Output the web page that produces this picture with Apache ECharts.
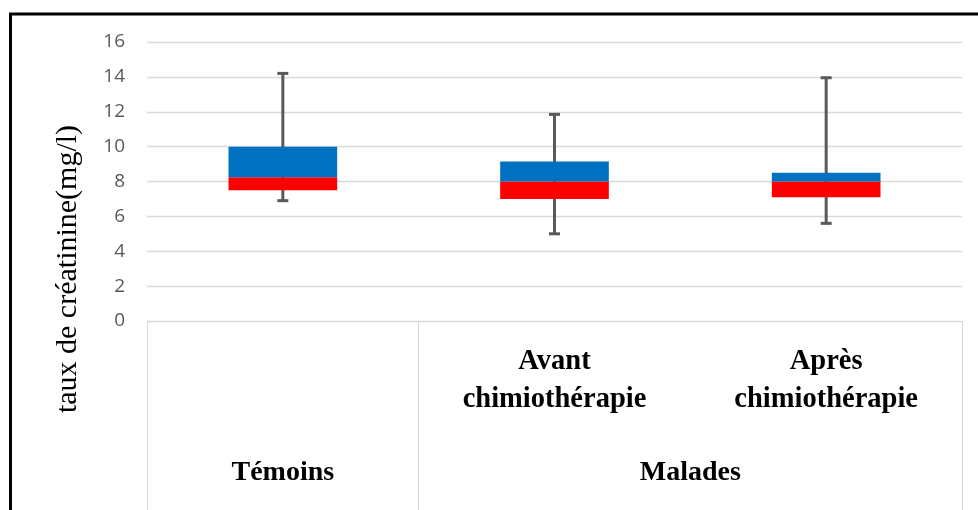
<!DOCTYPE html>
<html>
<head>
<meta charset="utf-8">
<script src="https://cdn.jsdelivr.net/npm/echarts@6/dist/echarts.min.js"></script>
<style>
  html, body { margin: 0; padding: 0; background: #fff; }
  #chart { width: 978px; height: 510px; }
</style>
</head>
<body>
<div id="chart"></div>
<script>
// ---- data ----
var categories = ['Témoins', 'Avant\nchimiothérapie', 'Après\nchimiothérapie'];
var groupLabels = ['', 'Témoins', '', '', 'Malades', '', ''];
var minValues    = [6.9, 5.0, 5.6];
var q1Values     = [7.5, 7.0, 7.1];
var medianValues = [8.25, 8.0, 8.0];
var q3Values     = [10.0, 9.15, 8.5];
var maxValues    = [14.2, 11.85, 13.95];
var yTicks = { min: 0, max: 16, interval: 2 };
var yTitle = 'taux de créatinine(mg/l)';

// ---- derived for stacking ----
var lowerBox = q1Values.map(function (q, i) { return +(medianValues[i] - q).toFixed(3); });
var upperBox = q3Values.map(function (q, i) { return +(q - medianValues[i]).toFixed(3); });
var whiskerData = categories.map(function (c, i) { return [i, minValues[i], maxValues[i]]; });

var chart = echarts.init(document.getElementById('chart'), null, { renderer: 'canvas' });
var serif = '"Liberation Serif", "Times New Roman", serif';
var grey = '#d9d9d9';

chart.setOption({
  animation: false,
  backgroundColor: '#ffffff',
  grid: { left: 147, right: 16, top: 42, bottom: 189, containLabel: false },
  xAxis: [
    {
      type: 'category',
      data: categories,
      position: 'bottom',
      axisLine: { show: true, lineStyle: { color: grey, width: 1 } },
      axisTick: { show: false },
      splitLine: { show: false },
      axisLabel: {
        interval: 0,
        margin: 22,
        fontFamily: serif,
        fontWeight: 'bold',
        fontSize: 28.5,
        lineHeight: 38,
        color: '#000',
        formatter: function (v, i) { return i === 0 ? '' : v; }
      }
    },
    {
      type: 'category',
      data: groupLabels,
      boundaryGap: false,
      position: 'bottom',
      offset: 189,
      axisLine: { show: false },
      axisTick: {
        show: true,
        inside: true,
        length: 189,
        interval: function (i) { return i === 0 || i === 2 || i === 6; },
        lineStyle: { color: grey, width: 1 }
      },
      splitLine: { show: false },
      axisLabel: {
        interval: 0,
        inside: true,
        margin: 22,
        fontFamily: serif,
        fontWeight: 'bold',
        fontSize: 28,
        lineHeight: 30,
        color: '#000'
      }
    }
  ],
  yAxis: {
    type: 'value',
    min: yTicks.min,
    max: yTicks.max,
    interval: yTicks.interval,
    axisLine: { show: false },
    axisTick: { show: false },
    splitLine: { show: true, lineStyle: { color: grey, width: 1.3 } },
    axisLabel: {
      margin: 22,
      fontFamily: '"Open Sans", "Liberation Sans", sans-serif',
      fontSize: 19,
      color: '#595959'
    }
  },
  graphic: [
    {
      type: 'rect',
      shape: { x: 10.5, y: 14, width: 1200, height: 700 },
      style: { fill: 'none', stroke: '#000', lineWidth: 3 },
      silent: true,
      z: 100
    },
    {
      type: 'text',
      x: 68,
      y: 269,
      rotation: Math.PI / 2,
      style: {
        text: yTitle,
        fontFamily: serif,
        fontSize: 30,
        fill: '#000',
        textAlign: 'center',
        textVerticalAlign: 'middle'
      },
      silent: true
    }
  ],
  series: [
    {
      type: 'custom',
      name: 'whisker',
      z: 1,
      renderItem: function (params, api) {
        var x = api.value(0);
        var lo = api.coord([x, api.value(1)]);
        var hi = api.coord([x, api.value(2)]);
        var half = 5.5;
        var st = { stroke: '#595959', lineWidth: 3 };
        return {
          type: 'group',
          children: [
            { type: 'line', shape: { x1: lo[0], y1: lo[1], x2: hi[0], y2: hi[1] }, style: st },
            { type: 'line', shape: { x1: lo[0] - half, y1: lo[1], x2: lo[0] + half, y2: lo[1] }, style: st },
            { type: 'line', shape: { x1: hi[0] - half, y1: hi[1], x2: hi[0] + half, y2: hi[1] }, style: st }
          ]
        };
      },
      encode: { x: 0, y: [1, 2] },
      data: whiskerData
    },
    {
      type: 'bar', name: 'base', stack: 'box', barWidth: '40%', z: 2,
      itemStyle: { color: 'rgba(0,0,0,0)' },
      data: q1Values
    },
    {
      type: 'bar', name: 'lower', stack: 'box', barWidth: '40%', z: 2,
      itemStyle: { color: '#ff0000' },
      data: lowerBox
    },
    {
      type: 'bar', name: 'upper', stack: 'box', barWidth: '40%', z: 2,
      itemStyle: { color: '#0070c0' },
      data: upperBox
    }
  ]
});
</script>
</body>
</html>
